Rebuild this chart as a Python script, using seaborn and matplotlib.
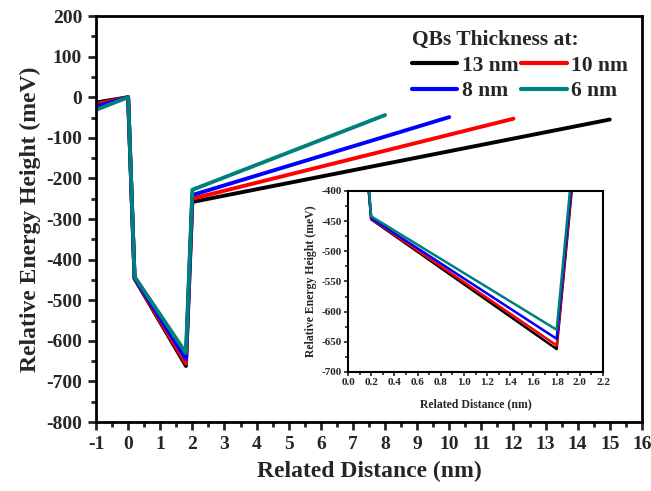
import matplotlib
matplotlib.use("Agg")
import matplotlib.pyplot as plt
import seaborn as sns
import pandas as pd
import numpy as np
from matplotlib.ticker import MultipleLocator
from matplotlib.lines import Line2D

sns.set_theme(style="white")
plt.rcParams['font.family'] = ['Liberation Serif', 'DejaVu Serif']
plt.rcParams['font.weight'] = 'bold'
plt.rcParams['axes.unicode_minus'] = False

labels = ["13 nm", "10 nm", "8 nm", "6 nm"]
colors = ["#000000", "#ff0000", "#0000ff", "#00807a"]
x_13 = [-1, 0, 0.2, 1.8, 2.0, 15]
y_13 = [-13, 0, -447, -662, -258, -55]
x_10 = [-1, 0, 0.2, 1.8, 2.0, 12]
y_10 = [-17, 0, -446, -656, -250, -53]
x_8 = [-1, 0, 0.2, 1.8, 2.0, 10]
y_8 = [-23, 0, -445, -645, -241, -49]
x_6 = [-1, 0, 0.2, 1.8, 2.0, 8]
y_6 = [-31, 0, -442, -630, -228, -44]

xs = [x_13, x_10, x_8, x_6]
ys = [y_13, y_10, y_8, y_6]
frames = []
for lab, xv, yv in zip(labels, xs, ys):
    frames.append(pd.DataFrame({"x": xv, "y": yv, "series": lab}))
df = pd.concat(frames, ignore_index=True)
palette = dict(zip(labels, colors))

fig = plt.figure(figsize=(6.51, 4.91), dpi=100)
ax = fig.add_axes([0.1475, 0.1405, 0.8385, 0.8269])

sns.lineplot(data=df, x="x", y="y", hue="series", palette=palette, hue_order=labels,
             sort=False, estimator=None, units="series", lw=2.8, ax=ax,
             legend=False)
ax.set_xlim(-1, 16)
ax.set_ylim(-800, 200)
ax.xaxis.set_major_locator(MultipleLocator(1))
ax.xaxis.set_minor_locator(MultipleLocator(0.5))
ax.yaxis.set_major_locator(MultipleLocator(100))
ax.yaxis.set_minor_locator(MultipleLocator(50))
ax.tick_params(which='major', direction='out', length=6, width=2, labelsize=14,
               bottom=True, left=True, top=False, right=False, pad=4)
ax.tick_params(which='minor', direction='out', length=3.5, width=2,
               bottom=True, left=True, top=False, right=False)
for s in ax.spines.values():
    s.set_linewidth(2)
    s.set_color('black')
for t in ax.get_xticklabels() + ax.get_yticklabels():
    t.set_fontweight('bold')
ax.set_xlabel("Related Distance (nm)", fontsize=17, fontweight='bold', labelpad=6)
ax.set_ylabel("Relative Energy Height (meV)", fontsize=17, fontweight='bold', labelpad=4)

# legend: row-wise order 13,10 / 8,6  -> column-major handles 13,8,10,6
order = [0, 2, 1, 3]
handles = [Line2D([], [], color=colors[i], lw=3) for i in order]
leg = ax.legend(handles, [labels[i] for i in order], ncol=2, title="QBs Thickness at:",
                frameon=False, loc='upper right', bbox_to_anchor=(0.998, 0.997),
                prop={'weight': 'bold', 'size': 15.5},
                title_fontproperties={'weight': 'bold', 'size': 15.5},
                handlelength=2.1, handletextpad=0.2, columnspacing=0.15, labelspacing=0.25,
                borderaxespad=0.2, alignment='left')

# inset
axi = fig.add_axes([0.5346, 0.2424, 0.3917, 0.3686])
sns.lineplot(data=df, x="x", y="y", hue="series", palette=palette, hue_order=labels,
             sort=False, estimator=None, units="series", lw=1.8, ax=axi,
             legend=False)
axi.set_xlim(0, 2.2)
axi.set_ylim(-700, -400)
axi.xaxis.set_major_locator(MultipleLocator(0.2))
axi.xaxis.set_minor_locator(MultipleLocator(0.1))
axi.yaxis.set_major_locator(MultipleLocator(50))
axi.yaxis.set_minor_locator(MultipleLocator(25))
axi.tick_params(which='major', direction='out', length=3, width=1.2, labelsize=8,
                bottom=True, left=True, top=False, right=False, pad=1.5)
axi.tick_params(which='minor', direction='out', length=2, width=1.2,
                bottom=True, left=True, top=False, right=False)
for s in axi.spines.values():
    s.set_linewidth(1.5)
    s.set_color('black')
for t in axi.get_xticklabels() + axi.get_yticklabels():
    t.set_fontweight('bold')
axi.set_xlabel("Related Distance (nm)", fontsize=8.5, fontweight='bold', labelpad=8)
axi.set_ylabel("Relative Energy Height (meV)", fontsize=8.5, fontweight='bold', labelpad=3)

fig.savefig("out.png", dpi=100)
